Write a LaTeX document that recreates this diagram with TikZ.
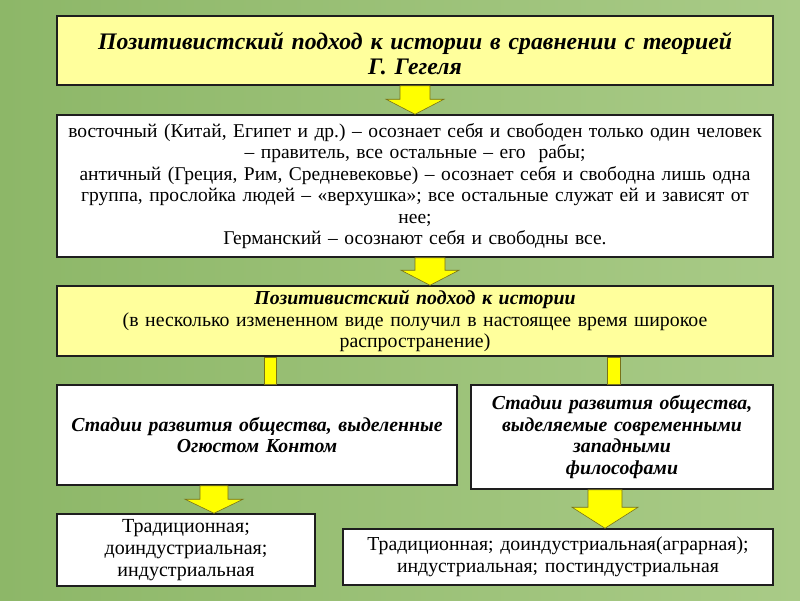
\documentclass[tikz,border=0pt]{standalone}
\usepackage{fontspec}
\setmainfont{Liberation Serif}
\usetikzlibrary{calc}
\frenchspacing
\definecolor{bgL}{HTML}{8DB768}
\definecolor{bgM}{HTML}{ABCD8A}
\definecolor{bgR}{HTML}{A9CB87}
\definecolor{paleY}{HTML}{FFFF9C}
\definecolor{arrY}{HTML}{FFFF00}
\definecolor{frame}{HTML}{1E1E1E}
\tikzset{
  box/.style={draw=frame,line width=1.5pt,fill=white,align=center,inner sep=0pt,
              font=\fontsize{19.8}{21.5}\selectfont},
  ybox/.style={box,fill=paleY},
  head/.style={font=\fontsize{19.8}{21.5}\selectfont\bfseries\itshape},
  fat/.style={fill=arrY,draw=olive!80!black,line width=.6pt},
  bar/.style={fill=arrY,draw=olive!80!black,line width=.5pt},
}
% fat down arrow: from, to, x shift, shaft half width, head half width, head length
\newcommand{\fatdown}[6]{%
  \draw[fat] let \p1=($(#1)+(#3,0)$), \p2=(#2) in
    (\x1-#4pt,\y1) -- (\x1+#4pt,\y1) -- (\x1+#4pt,\y2+#6pt) -- (\x1+#5pt,\y2+#6pt)
    -- (\x1,\y2) -- (\x1-#5pt,\y2+#6pt) -- (\x1-#4pt,\y2+#6pt) -- cycle;}

\begin{document}
\begin{tikzpicture}[x=1pt,y=-1pt]
  \useasboundingbox (0,0) rectangle (800,600);
  \shade[left color=bgL,middle color=bgM,right color=bgR] (0,0) rectangle (800,600);
  % title
  \node[ybox,minimum width=716,minimum height=69,text width=710,
        font=\fontsize{23.7}{25}\selectfont\bfseries\itshape] (hegel) at (415,50.5)
    {\rule{0pt}{24pt}Позитивистский подход к истории в сравнении с теорией\\Г. Гегеля};
  % three worlds
  \node[box,minimum width=716,minimum height=142,text width=710,
        font=\fontsize{19.5}{21.4}\selectfont] (worlds) at (415,186)
    {восточный (Китай, Египет и др.) – осознает себя и свободен только один человек\\
     – правитель, все остальные – его\ \ рабы;\\
     античный (Греция, Рим, Средневековье) – осознает себя и свободна лишь одна\\
     группа, прослойка людей – «верхушка»; все остальные служат ей и зависят от\\
     нее;\\
     Германский – осознают себя и свободны все.};
  % positivism
  \node[ybox,minimum width=716,minimum height=70,text width=710] (pos) at (415,321)
    {\textbf{\textit{Позитивистский подход к истории}}\\
     (в несколько измененном виде получил в настоящее время широкое\\
     распространение)};
  % the two sets of stages
  \node[box,head,minimum width=400,minimum height=100,text width=394] (comte) at (257,435)
    {Стадии развития общества, выделенные\\Огюстом Контом};
  \node[box,head,minimum width=302,minimum height=104,text width=296] (west) at (622,437)
    {Стадии развития общества,\\выделяемые современными\\западными\\философами};
  \node[box,minimum width=258,minimum height=72,text width=252,
        font=\fontsize{20}{22}\selectfont] (comteS) at (186,550)
    {Традиционная;\\доиндустриальная;\\индустриальная};
  \node[box,minimum width=430,minimum height=56,text width=424] (westS) at (558,557)
    {Традиционная; доиндустриальная(аграрная);\\индустриальная; постиндустриальная};
  % links
  \fatdown{hegel.south}{worlds.north}{0}{15}{29}{15}
  \fatdown{worlds.south}{pos.north}{15}{15}{29}{15}
  \draw[bar] ($(pos.south)+(-151,0)$) rectangle ($(comte.north)+(19,0)$);
  \draw[bar] ($(pos.south)+(192,0)$) rectangle ($(west.north)+(-2,0)$);
  \fatdown{comte.south}{comteS.north}{-43}{14}{29}{14}
  \fatdown{west.south}{westS.north}{-17}{17}{33}{21}
\end{tikzpicture}
\end{document}
